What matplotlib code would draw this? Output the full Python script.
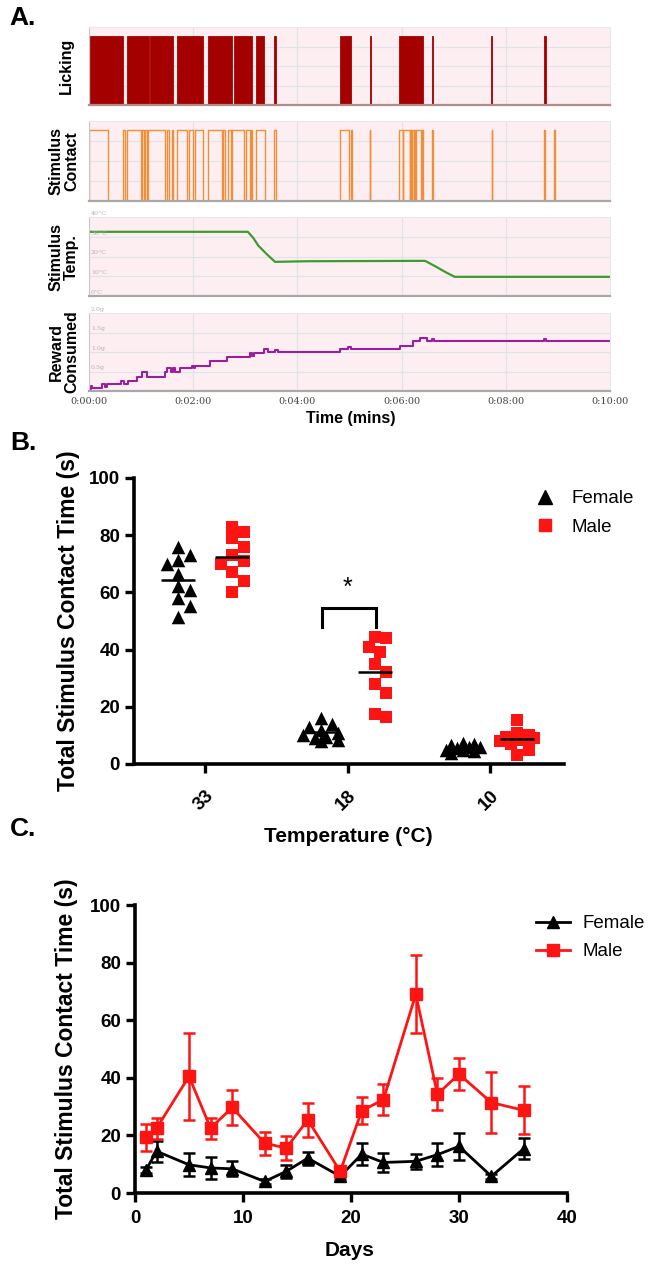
import numpy as np
import matplotlib
matplotlib.use("Agg")
import matplotlib.pyplot as plt
from matplotlib.lines import Line2D

plt.rcParams["font.family"] = ["Liberation Sans", "DejaVu Sans"]

W, H = 663, 1267

# ---- panel A: session trace (minutes) ----
lick_start = [0.02, 0.72, 1.18, 1.68, 2.29, 2.78, 3.20, 3.55, 4.82, 5.39, 5.95, 6.58, 7.72, 8.74]
lick_end = [0.66, 1.15, 1.62, 2.19, 2.75, 3.13, 3.36, 3.58, 5.03, 5.41, 6.42, 6.61, 7.74, 8.77]

contact_on = [0.00, 0.66, 0.72, 1.02, 1.07, 1.14, 1.49, 1.59, 1.69, 1.92, 2.03, 2.29, 2.57,
              2.67, 2.74, 3.01, 3.10, 3.20, 3.56, 4.82, 5.02, 5.39, 5.95, 6.03, 6.17, 6.20,
              6.24, 6.27, 6.39, 6.58, 7.73, 8.74, 8.93]
contact_off = [0.36, 0.70, 1.00, 1.06, 1.11, 1.46, 1.54, 1.62, 1.89, 2.00, 2.18, 2.55, 2.61,
               2.72, 2.97, 3.09, 3.13, 3.37, 3.58, 4.99, 5.04, 5.40, 6.02, 6.16, 6.19, 6.23,
               6.26, 6.38, 6.42, 6.61, 7.74, 8.76, 8.94]

temp_t = [0, 3.05, 3.15, 3.25, 3.40, 3.57, 4.2, 6.45, 6.65, 6.85, 7.02, 10]
temp_c = [32.5, 32.5, 29.5, 25.5, 21.5, 17.3, 17.6, 17.8, 15.0, 12.0, 9.7, 9.7]

reward_t = [0.00, 0.03, 0.06, 0.25, 0.30, 0.34, 0.62, 0.68, 0.75, 0.92, 1.02, 1.12, 1.46,
            1.50, 1.57, 1.62, 1.66, 1.75, 1.97, 2.01, 2.03, 2.32, 2.64, 3.09, 3.12, 3.16,
            3.35, 3.43, 3.57, 3.62, 4.82, 4.97, 5.02, 5.97, 6.21, 6.36, 6.48, 6.58, 6.63,
            8.73, 8.77, 10.0]
reward_g = [0.04, 0.12, 0.08, 0.17, 0.10, 0.17, 0.25, 0.19, 0.25, 0.36, 0.48, 0.36, 0.48,
            0.59, 0.50, 0.59, 0.50, 0.59, 0.63, 0.59, 0.65, 0.76, 0.87, 0.97, 0.90, 0.97,
            1.07, 0.99, 1.06, 0.99, 1.07, 1.14, 1.08, 1.16, 1.27, 1.37, 1.27, 1.34, 1.27,
            1.34, 1.27, 1.27]

# ---- panel B: contact time per temperature ----
temps = ["33", "18", "10"]
female_pts = [[76, 73, 71.3, 70, 66.3, 62.2, 60.8, 57.9, 55.2, 51.5],
              [16, 14, 13, 12, 11, 10, 9.5, 9, 8.5, 8],
              [7.5, 7, 6.5, 6, 6, 5.5, 5, 5, 4.5, 4]]
male_pts = [[83, 81, 79, 76, 73, 71, 70, 67, 64, 60],
            [44.5, 44, 41, 39, 35, 32, 28, 25, 17.5, 16.3],
            [15.5, 11, 10, 9.5, 9, 8.5, 8, 7, 5, 3]]

# ---- panel C: across days ----
days = [1, 2, 5, 7, 9, 12, 14, 16, 19, 21, 23, 26, 28, 30, 33, 36]
male_mean = [19.3, 22.5, 40.5, 22.5, 29.7, 17.3, 15.6, 25.4, 7.5, 28.6, 32.4, 69.0, 34.3, 41.3, 31.4, 28.7]
male_sem = [4.6, 3.7, 15.0, 3.7, 6.1, 4.0, 4.3, 6.0, 1.5, 4.7, 5.4, 13.5, 5.6, 5.7, 10.7, 8.3]
female_mean = [7.9, 14.5, 9.8, 8.7, 8.4, 4.0, 7.5, 12.1, 5.8, 13.5, 10.6, 11.0, 13.3, 16.2, 5.8, 15.4]
female_sem = [1.0, 3.7, 4.0, 3.8, 2.6, 0.8, 2.3, 2.3, 1.0, 3.8, 3.3, 2.6, 4.0, 4.6, 0.8, 3.7]

PINK = "#fdeff1"
GRID = "#dfe4ea"
LICK = "#a50000"
CONTACT = "#ef8f3a"
GREEN = "#3f9a2e"
PURPLE = "#9a1ea0"
RED = "#ff1414"

fig = plt.figure(figsize=(W / 100, H / 100), dpi=100)


def px_axes(x0, y0, x1, y1):
    return fig.add_axes([x0 / W, 1 - y1 / H, (x1 - x0) / W, (y1 - y0) / H])


def ftext(x, y, s, **kw):
    fig.text(x / W, 1 - y / H, s, **kw)


def trace_axes(y0, y1, ylim, hgrid):
    ax = px_axes(89, y0, 610, y1)
    ax.set_facecolor(PINK)
    ax.set_xlim(0, 10)
    ax.set_ylim(*ylim)
    for v in [2, 4, 6, 8]:
        ax.axvline(v, color=GRID, lw=0.9, zorder=0)
    for v in hgrid:
        ax.axhline(v, color=GRID, lw=0.9, zorder=0)
    ax.set_xticks([])
    ax.set_yticks([])
    for side in ["top", "right"]:
        ax.spines[side].set_color("#e8e8e8")
        ax.spines[side].set_linewidth(0.8)
    ax.spines["left"].set_color("#c8c8c8")
    ax.spines["bottom"].set_color("#a8a8a8")
    ax.spines["bottom"].set_linewidth(1.6)
    return ax


# licking
ax = trace_axes(27, 105, (0, 1), [0.25, 0.5, 0.75])
ax.broken_barh([(s, e - s) for s, e in zip(lick_start, lick_end)], (0, 0.89),
               facecolors=LICK, edgecolor=LICK, linewidth=0.6)
ax.spines["bottom"].set_color("#b58a8a")

# stimulus contact
ax = trace_axes(121, 201, (0, 1), [0.25, 0.5, 0.75])
cx, cy = [0.0], [0.0]
for s, e in zip(contact_on, contact_off):
    cx += [s, s, e, e]
    cy += [0, 0.89, 0.89, 0]
cx.append(10)
cy.append(0)
ax.plot(cx, cy, color=CONTACT, lw=1.0)

# stimulus temperature
ax = trace_axes(217, 296, (0, 40), [10, 20, 30])
ax.plot(temp_t, temp_c, color=GREEN, lw=1.6)
for v in [0, 10, 20, 30, 40]:
    ax.text(0.04, v + 0.6, f"{v}°C", fontsize=4.5, color="#b0b0b0",
            va="bottom", ha="left", clip_on=False, family="DejaVu Serif")

# reward consumed
ax = trace_axes(313, 391, (0, 2), [0.5, 1.0, 1.5])
ax.step(reward_t, reward_g, where="post", color=PURPLE, lw=1.5)
for v in [0.5, 1.0, 1.5, 2.0]:
    ax.text(0.04, v + 0.03, f"{v:.1f}g", fontsize=4.5, color="#b0b0b0",
            va="bottom", ha="left", clip_on=False, family="DejaVu Serif")
ax.set_xticks(range(0, 11, 2))
ax.set_xticklabels([f"0:{m:02d}:00" for m in range(0, 11, 2)], fontsize=7,
                   color="#444444", family="DejaVu Serif")
ax.tick_params(axis="x", length=0, pad=4)

ftext(66, 66, "Licking", rotation=90, ha="center", va="center", fontsize=11.5, fontweight="bold")
ftext(64, 161, "Stimulus\nContact", rotation=90, ha="center", va="center", fontsize=11.5,
      fontweight="bold", linespacing=1.0)
ftext(64, 257, "Stimulus\nTemp.", rotation=90, ha="center", va="center", fontsize=11.5,
      fontweight="bold", linespacing=1.0)
ftext(64, 352, "Reward\nConsumed", rotation=90, ha="center", va="center", fontsize=11.5,
      fontweight="bold", linespacing=1.0)
ftext(351, 418, "Time (mins)", ha="center", va="center", fontsize=11.5, fontweight="bold")

for lab, y in [("A.", 18), ("B.", 443), ("C.", 829)]:
    ftext(23, y, lab, ha="center", va="center", fontsize=19, fontweight="bold")


def style_prism(ax):
    for side in ["top", "right"]:
        ax.spines[side].set_visible(False)
    for side in ["left", "bottom"]:
        ax.spines[side].set_linewidth(2.6)
    ax.tick_params(width=2.4, length=6.5, labelsize=13.5)
    for t in ax.get_xticklabels() + ax.get_yticklabels():
        t.set_fontweight("bold")


# ---- panel B ----
axB = px_axes(134, 478, 564, 764)
axB.set_xlim(-0.5, 2.52)
axB.set_ylim(0, 100)
axB.set_yticks(range(0, 101, 20))
axB.set_xticks(range(len(temps)))
axB.set_xticklabels(temps, rotation=45, ha="right", rotation_mode="anchor")
style_prism(axB)
axB.tick_params(axis="x", pad=10)

px_per_x = 430 / 3.02
px_per_y = 286 / 100.0


def swarm(vals, center, mark_px=11.5, half_width=0.13):
    # beeswarm limited to a fixed width; markers may overlap when crowded
    step = mark_px * 0.5 / px_per_x
    nmax = int(half_width / step)
    cands = [0.0]
    for k in range(1, nmax + 1):
        cands += [k * step, -k * step]
    placed = []
    for v in vals:
        best, best_d = None, -1.0
        for off in cands:
            x = center + off
            d = min([np.hypot((x - px) * px_per_x, (v - py) * px_per_y) for px, py in placed] + [1e9])
            if d > mark_px * 0.9:
                best = x
                break
            if d > best_d:
                best, best_d = x, d
        placed.append((best, v))
    return [p[0] for p in placed]


for i in range(len(temps)):
    fx = swarm(female_pts[i], i - 0.19)
    mx = swarm(male_pts[i], i + 0.19)
    axB.scatter(fx, female_pts[i], marker="^", s=95, color="black", zorder=3, linewidths=0)
    axB.scatter(mx, male_pts[i], marker="s", s=85, color=RED, zorder=3, linewidths=0)
    axB.hlines(np.mean(female_pts[i]), i - 0.31, i - 0.07, color="black", lw=1.8, zorder=4)
    axB.hlines(np.mean(male_pts[i]), i + 0.07, i + 0.31, color="black", lw=1.8, zorder=4)

# significance bracket at 18 C
top = max(male_pts[1]) + 10
axB.plot([1 - 0.18, 1 - 0.18, 1 + 0.2, 1 + 0.2], [top - 6.5, top, top, top - 6.5],
         color="black", lw=2.2, solid_joinstyle="miter")
axB.text(1.0, top + 3, "*", ha="center", va="bottom", fontsize=18)

hB = [Line2D([], [], marker="^", ls="none", color="black", markersize=9.5),
      Line2D([], [], marker="s", ls="none", color=RED, markersize=9)]
axB.legend(hB, ["Female", "Male"], loc="upper left", bbox_to_anchor=(536 / W, 1 - 490 / H),
           bbox_transform=fig.transFigure, frameon=False, fontsize=13.5, handlelength=1.0,
           handletextpad=0.9, labelspacing=0.6, borderaxespad=0, borderpad=0)

ftext(69, 621, "Total Stimulus Contact Time (s)", rotation=90, ha="center", va="center",
      fontsize=16.5, fontweight="bold")
ftext(348, 837, "Temperature (°C)", ha="center", va="center", fontsize=15, fontweight="bold")

# ---- panel C ----
axC = px_axes(135, 905, 567, 1193)
axC.set_xlim(0, 40)
axC.set_ylim(0, 100)
axC.set_xticks(range(0, 41, 10))
axC.set_yticks(range(0, 101, 20))
style_prism(axC)
axC.tick_params(axis="x", pad=6)
axC.errorbar(days, female_mean, yerr=female_sem, color="black", marker="^", markersize=8.5,
             lw=2.0, elinewidth=1.8, capsize=4.5, capthick=1.8, label="Female")
axC.errorbar(days, male_mean, yerr=male_sem, color=RED, marker="s", markersize=8,
             lw=2.0, elinewidth=1.8, capsize=4.5, capthick=1.8, label="Male")
hC = [Line2D([], [], marker="^", color="black", markersize=8.5, lw=2),
      Line2D([], [], marker="s", color=RED, markersize=8, lw=2)]
axC.legend(hC, ["Female", "Male"], loc="upper left", bbox_to_anchor=(536 / W, 1 - 915 / H),
           bbox_transform=fig.transFigure, frameon=False, fontsize=13.5, handlelength=1.8,
           handletextpad=0.7, labelspacing=0.6, borderaxespad=0, borderpad=0)

ftext(67, 1049, "Total Stimulus Contact Time (s)", rotation=90, ha="center", va="center",
      fontsize=16.5, fontweight="bold")
ftext(350, 1250, "Days", ha="center", va="center", fontsize=15, fontweight="bold")

fig.savefig("out.png", dpi=100)
